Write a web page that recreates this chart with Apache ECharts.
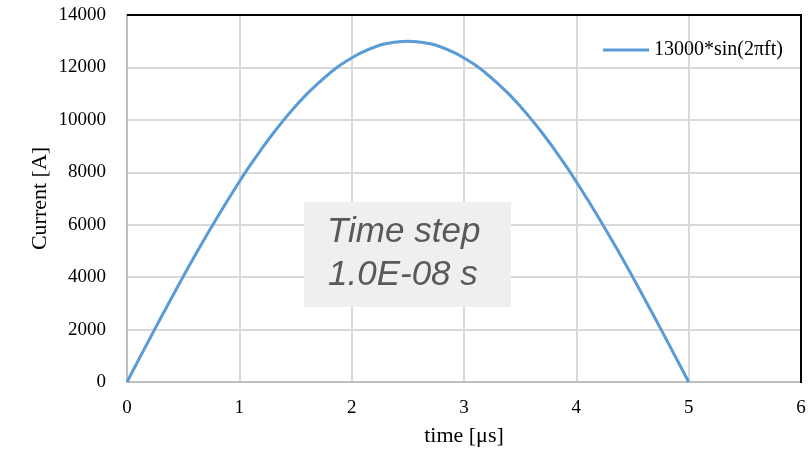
<!DOCTYPE html>
<html><head><meta charset="utf-8">
<script src="https://cdn.jsdelivr.net/npm/echarts@6/dist/echarts.min.js"></script>
<style>html,body{margin:0;padding:0;background:#fff}#c{width:810px;height:455px}</style>
</head><body><div id="c"></div>
<script>
var times = [0, 0.1, 0.2, 0.3, 0.4, 0.5, 0.6, 0.7, 0.8, 0.9, 1.0, 1.1, 1.2, 1.3, 1.4, 1.5, 1.6, 1.7, 1.8, 1.9, 2.0, 2.1, 2.2, 2.3, 2.4, 2.5,
             2.6, 2.7, 2.8, 2.9, 3.0, 3.1, 3.2, 3.3, 3.4, 3.5, 3.6, 3.7, 3.8, 3.9, 4.0, 4.1, 4.2, 4.3, 4.4, 4.5, 4.6, 4.7, 4.8, 4.9, 5.0];
var currents = [0, 820, 1630, 2440, 3230, 4020, 4790, 5530, 6260, 6960, 7640, 8290, 8900, 9480, 10020, 10520, 10980, 11390, 11760, 12090, 12360, 12590, 12770, 12900, 12970, 13000,
                12970, 12900, 12770, 12590, 12360, 12090, 11760, 11390, 10980, 10520, 10020, 9480, 8900, 8290, 7640, 6960, 6260, 5530, 4790, 4020, 3230, 2440, 1630, 820, 0];
var seriesName = '13000*sin(2\u03c0ft)';
var annotation = ['Time step', '1.0E-08 s'];

var chart = echarts.init(document.getElementById('c'));
var serif = 'Liberation Serif';
chart.setOption({
  animation: false,
  grid: {left: 127, right: 9, top: 15, bottom: 73},
  legend: {
    data: [seriesName], right: 22, top: 35, itemWidth: 46, itemHeight: 3, itemGap: 6,
    icon: 'rect',
    textStyle: {fontFamily: serif, fontSize: 20, color: '#000', padding: [0, 0, 0, 0]}
  },
  xAxis: {
    type: 'value', min: 0, max: 6, interval: 1,
    name: 'time [\u03bcs]', nameLocation: 'middle', nameGap: 43,
    nameTextStyle: {fontFamily: serif, fontSize: 22, color: '#000'},
    axisLine: {show: true, onZero: false, lineStyle: {color: '#bfbfbf', width: 2}},
    axisTick: {show: false},
    axisLabel: {fontFamily: serif, fontSize: 19, color: '#000', margin: 17},
    splitLine: {show: true, lineStyle: {color: '#d9d9d9', width: 2}}
  },
  yAxis: {
    type: 'value', min: 0, max: 14000, interval: 2000,
    name: 'Current [A]', nameLocation: 'middle', nameGap: 76, nameMoveOverlap: false,
    nameTextStyle: {fontFamily: serif, fontSize: 22, color: '#000'},
    axisLine: {show: true, lineStyle: {color: '#bfbfbf', width: 2}},
    axisTick: {show: false},
    axisLabel: {fontFamily: serif, fontSize: 19, color: '#000', margin: 21, formatter: function(v){ return String(v); }},
    splitLine: {show: true, lineStyle: {color: '#d9d9d9', width: 2}}
  },
  series: [{
    name: seriesName, type: 'line', smooth: true, showSymbol: false,
    data: times.map(function(t, i){ return [t, currents[i]]; }),
    lineStyle: {color: '#5b9bd5', width: 3}, itemStyle: {color: '#5b9bd5'}, z: 3
  }],
  graphic: [
    {type: 'line', shape: {x1: 127, y1: 15, x2: 801, y2: 15}, style: {stroke: '#000', lineWidth: 2}, z: 10},
    {type: 'line', shape: {x1: 801, y1: 14, x2: 801, y2: 383}, style: {stroke: '#000', lineWidth: 2}, z: 10},
    {type: 'rect', shape: {x: 304, y: 202, width: 207, height: 105}, style: {fill: '#efefef'}, z: 10},
    {type: 'text', left: 327, top: 215, z: 11, style: {text: annotation[0], font: 'italic 35px "Liberation Sans"', fill: '#595959'}},
    {type: 'text', left: 328, top: 258, z: 11, style: {text: annotation[1], font: 'italic 35px "Liberation Sans"', fill: '#595959'}}
  ]
});
</script></body></html>
